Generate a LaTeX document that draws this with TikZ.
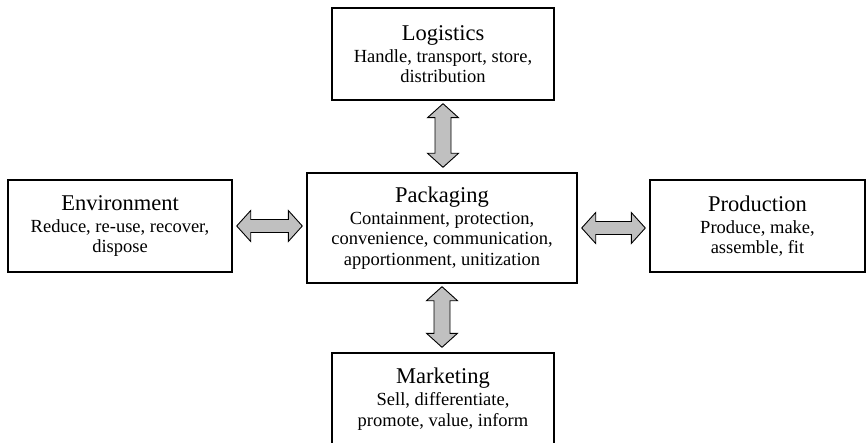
\documentclass[tikz,border=0pt]{standalone}
\usepackage{fontspec}
\setmainfont{Liberation Serif}
\usepackage{tikz}
\usetikzlibrary{calc}
\definecolor{arrowgray}{RGB}{192, 192, 192}

\newcommand{\titlefont}{\fontsize{22.5}{22}\selectfont}
\newcommand{\bodyfont}{\fontsize{18.5}{20.5}\selectfont}

% horizontal block arrow between two boxes
\newcommand{\dblarrowh}[2]{%
    \draw[blockarr] let \p1=($(#1.east)+(4pt,0)$), \p2=($(#2.west)-(4pt,0)$) in
        (\x1,\y1) -- (\x1+14,\y1+15.5) -- (\x1+14,\y1+6.5) -- (\x2-14,\y1+6.5)
        -- (\x2-14,\y1+15.5) -- (\x2,\y1) -- (\x2-14,\y1-15.5) -- (\x2-14,\y1-6.5)
        -- (\x1+14,\y1-6.5) -- (\x1+14,\y1-15.5) -- cycle;}
% vertical block arrow between two boxes
\newcommand{\dblarrowv}[2]{%
    \draw[blockarr] let \p1=($(#1.south)-(0,3pt)$), \p2=($(#2.north)+(0,5pt)$) in
        (\x1,\y1) -- (\x1+15.5,\y1-14) -- (\x1+8,\y1-14) -- (\x1+8,\y2+14)
        -- (\x1+15.5,\y2+14) -- (\x1,\y2) -- (\x1-15.5,\y2+14) -- (\x1-8,\y2+14)
        -- (\x1-8,\y1-14) -- (\x1-15.5,\y1-14) -- cycle;}

\begin{document}
\begin{tikzpicture}[
        x=1pt, y=-1pt,
        box/.style={draw, line width=1.4pt, align=center, font=\bodyfont, inner sep=0pt},
        blockarr/.style={draw, line width=0.9pt, fill=arrowgray, line join=miter}
    ]
        \useasboundingbox (0,0) rectangle (866,443);

        % Centre
        \node[box, minimum width=270pt, minimum height=110pt] (pack) at (442,228)
            {{\titlefont Packaging}\\[1.5pt]Containment, protection,\\convenience, communication,\\apportionment, unitization};

        % Around it
        \node[box, minimum width=222pt, minimum height=92pt] (logis) at (443,54)
            {{\titlefont Logistics}\\[1.5pt]Handle, transport, store,\\distribution};
        \node[box, minimum width=224pt, minimum height=92pt] (env) at (120,226)
            {{\titlefont Environment}\\[1.5pt]Reduce, re-use, recover,\\dispose};
        \node[box, minimum width=215pt, minimum height=92pt] (prod) at (757.5,226)
            {{\titlefont Production}\\[1.5pt]Produce, make,\\assemble, fit};
        \node[box, minimum width=222pt, minimum height=92pt] (mark) at (443,399)
            {{\titlefont Marketing}\\[1.5pt]Sell, differentiate,\\promote, value, inform};

        % Arrows
        \dblarrowv{logis}{pack}
        \dblarrowv{pack}{mark}
        \dblarrowh{env}{pack}
        \dblarrowh{pack}{prod}
    \end{tikzpicture}
\end{document}
